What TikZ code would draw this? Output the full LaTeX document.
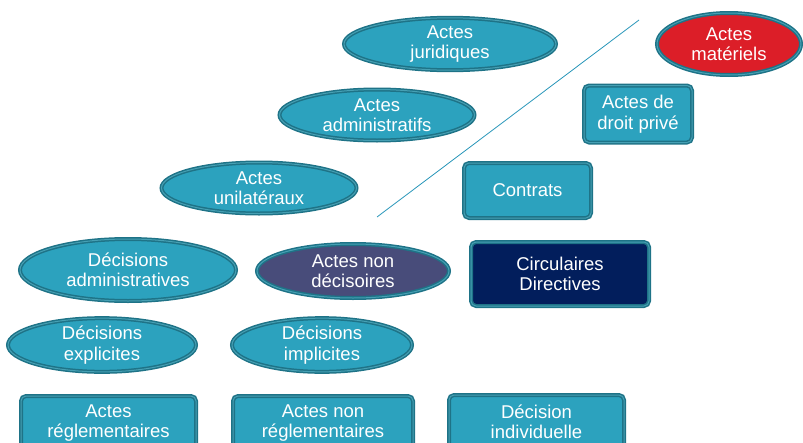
\documentclass[tikz,border=0pt]{standalone}
\usepackage{fontspec}
\setmainfont{Liberation Sans}
\usetikzlibrary{shapes.geometric}
\definecolor{tealfill}{RGB}{44,162,190}
\definecolor{tealborder}{RGB}{30,115,135}
\definecolor{tealinner}{RGB}{70,160,180}
\definecolor{redfill}{RGB}{220,30,40}
\definecolor{purplefill}{RGB}{72,76,122}
\definecolor{navyfill}{RGB}{2,30,92}
\definecolor{linecol}{RGB}{40,150,185}
\tikzset{
  base/.style={draw=tealborder, line width=1.5pt, double=tealinner, double distance=1pt,
    fill=tealfill, text=white, align=center, inner sep=0pt,
    font=\fontsize{18.5}{20.5}\selectfont},
  ell/.style={base, ellipse},
  rbox/.style={base, rectangle, rounded corners=5pt},
}
\begin{document}
\begin{tikzpicture}[x=1pt,y=-1pt]
\useasboundingbox (0,0) rectangle (803,442);
\clip (0,0) rectangle (803,442);
% ellipses
\node[ell, minimum width=212pt, minimum height=52pt] (jur) at (450,44) {Actes\\juridiques};
\node[ell, fill=redfill, minimum width=144pt, minimum height=62pt] (mat) at (729,44) {Actes\\matériels};
\node[ell, minimum width=195pt, minimum height=51pt] (adm) at (377,115) {Actes\\administratifs};
\node[ell, minimum width=195pt, minimum height=51pt] (uni) at (259,188) {Actes\\unilatéraux};
\node[ell, minimum width=216pt, minimum height=62pt] (deca) at (128,270) {Décisions\\administratives};
\node[ell, fill=purplefill, minimum width=192pt, minimum height=54pt] (ndec) at (353,271) {Actes non\\décisoires};
\node[ell, minimum width=188pt, minimum height=50pt] (expl) at (102,345) {Décisions\\explicites};
\node[ell, minimum width=180pt, minimum height=50pt] (impl) at (322,345) {Décisions\\implicites};
% rectangles
\node[rbox, minimum width=108pt, minimum height=57pt] (priv) at (638,114) {Actes de\\droit privé};
\node[rbox, minimum width=127pt, minimum height=55pt] (contr) at (527.5,190.5) {Contrats};
\node[rbox, fill=navyfill, minimum width=178pt, minimum height=64pt] (circ) at (560,274) {Circulaires\\Directives};
\node[rbox, minimum width=175pt, minimum height=54pt] (regl) at (108.5,423) {Actes\\réglementaires};
\node[rbox, minimum width=180pt, minimum height=54pt] (nregl) at (323,423) {Actes non\\réglementaires};
\node[rbox, minimum width=175pt, minimum height=54pt] (indiv) at (536.5,422) {Décision\\individuelle};
% separating line
\coordinate (ls) at (377,217);
\coordinate (le) at (639,20);
\draw[linecol, line width=0.8pt] (ls) -- (le);
\end{tikzpicture}
\end{document}
